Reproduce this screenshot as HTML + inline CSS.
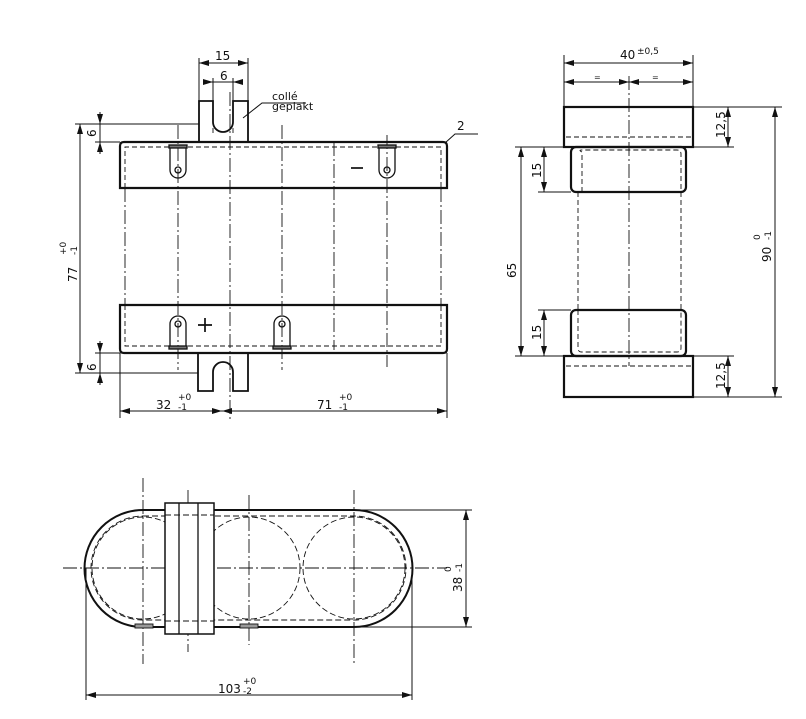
<!DOCTYPE html>
<html><head><meta charset="utf-8"><style>
html,body{margin:0;padding:0;background:#fff}
svg{display:block}
text{font-family:"DejaVu Sans","Liberation Sans",sans-serif;fill:#111}
</style></head><body>
<svg width="806" height="719" viewBox="0 0 806 719" xmlns="http://www.w3.org/2000/svg">
<defs>
<marker id="a" viewBox="0 0 10 6" refX="10" refY="3" markerWidth="10" markerHeight="6" orient="auto-start-reverse" markerUnits="userSpaceOnUse"><path d="M0,0L10,3L0,6z" fill="#111"/></marker>
</defs>
<g stroke="#111" fill="none">
<!-- FRONT VIEW -->
<g stroke-width="0.9" stroke-dasharray="14,3,2,3">
<line x1="178" y1="125" x2="178" y2="370"/><line x1="230" y1="92" x2="230" y2="420"/>
<line x1="282" y1="125" x2="282" y2="370"/><line x1="334" y1="142" x2="334" y2="350"/>
<line x1="387" y1="135" x2="387" y2="367"/>
<line x1="125" y1="188" x2="125" y2="305"/><line x1="441" y1="188" x2="441" y2="305"/>
</g>
<g stroke-width="0.9" stroke-dasharray="5,3">
<path d="M125,188 V147 H441 V188"/><path d="M125,305 V346 H441 V305"/>
<path d="M213,133 V118"/><path d="M233,133 V118"/>
</g>
<path d="M120,188 V146 Q120,142 124,142 H443 Q447,142 447,146 V188 Z" stroke-width="2.2"/>
<path d="M120,305 V349 Q120,353 124,353 H443 Q447,353 447,349 V305 Z" stroke-width="2.2"/>
<path d="M199,142 V101 H213 V122 A10,10 0 0 0 233,122 V101 H248 V142" stroke-width="1.8"/>
<path d="M198,353 V391 H213 V372 A10,10 0 0 1 233,372 V391 H248 V353" stroke-width="1.8"/>
<!-- lugs -->
<g stroke-width="1.3">
<path d="M170,147 V170 A8,8 0 0 0 186,170 V147"/><circle cx="178" cy="170" r="3"/><rect x="169" y="145" width="18" height="3" fill="#777"/>
<path d="M379,147 V170 A8,8 0 0 0 395,170 V147"/><circle cx="387" cy="170" r="3"/><rect x="378" y="145" width="18" height="3" fill="#777"/>
<path d="M170,347 V324 A8,8 0 0 1 186,324 V347"/><circle cx="178" cy="324" r="3"/><rect x="169" y="346" width="18" height="3" fill="#777"/>
<path d="M274,347 V324 A8,8 0 0 1 290,324 V347"/><circle cx="282" cy="324" r="3"/><rect x="273" y="346" width="18" height="3" fill="#777"/>
</g>
<path d="M351,168 H363" stroke-width="1.7"/>
<path d="M198,325 H212 M205,318 V332" stroke-width="1.7"/>
<!-- dims front -->
<g stroke-width="1">
<line x1="199" y1="58" x2="199" y2="101"/><line x1="248" y1="58" x2="248" y2="101"/>
<line x1="199" y1="63" x2="248" y2="63" marker-start="url(#a)" marker-end="url(#a)"/>
<line x1="213" y1="78" x2="213" y2="101"/><line x1="233" y1="78" x2="233" y2="101"/>
<line x1="205" y1="82" x2="213" y2="82" marker-end="url(#a)"/><line x1="241" y1="82" x2="233" y2="82" marker-end="url(#a)"/><line x1="213" y1="82" x2="233" y2="82"/>
<line x1="75" y1="124" x2="199" y2="124"/><line x1="75" y1="373" x2="198" y2="373"/>
<line x1="80" y1="124" x2="80" y2="373" marker-start="url(#a)" marker-end="url(#a)"/>
<line x1="100" y1="112" x2="100" y2="124" marker-end="url(#a)"/><line x1="100" y1="154" x2="100" y2="142" marker-end="url(#a)"/><line x1="100" y1="124" x2="100" y2="142"/>
<line x1="95" y1="142" x2="120" y2="142"/>
<line x1="95" y1="353" x2="120" y2="353"/>
<line x1="100" y1="341" x2="100" y2="353" marker-end="url(#a)"/><line x1="100" y1="385" x2="100" y2="373" marker-end="url(#a)"/><line x1="100" y1="353" x2="100" y2="373"/>
<line x1="120" y1="353" x2="120" y2="418"/><line x1="447" y1="353" x2="447" y2="418"/>
<line x1="120" y1="411" x2="222" y2="411" marker-start="url(#a)" marker-end="url(#a)"/>
<line x1="222" y1="411" x2="447" y2="411" marker-start="url(#a)" marker-end="url(#a)"/>
<path d="M243,118 L262,103 H306"/>
<path d="M445,143 L455,134 H478"/>
</g>
<!-- SIDE VIEW -->
<line x1="629" y1="76" x2="629" y2="366" stroke-width="0.9" stroke-dasharray="14,3,2,3"/>
<g stroke-width="0.9" stroke-dasharray="5,3">
<line x1="566" y1="137" x2="691" y2="137"/><line x1="566" y1="366" x2="691" y2="366"/>
<path d="M582,192 V152 Q578,150 582,150 H677 Q681,150 681,154 V192"/>
<path d="M578,192 V310 M681,192 V310"/>
<path d="M578,310 V348 Q578,352 582,352 H677 Q681,352 681,348 V310"/>
</g>
<rect x="564" y="107" width="129" height="40" stroke-width="2.2"/>
<rect x="564" y="356" width="129" height="41" stroke-width="2.2"/>
<rect x="571" y="147" width="115" height="45" rx="5" stroke-width="2.2"/>
<rect x="571" y="310" width="115" height="46" rx="5" stroke-width="2.2"/>
<g stroke-width="1">
<line x1="564" y1="55" x2="564" y2="107"/><line x1="693" y1="55" x2="693" y2="107"/>
<line x1="564" y1="63" x2="693" y2="63" marker-start="url(#a)" marker-end="url(#a)"/>
<line x1="564" y1="82" x2="629" y2="82" marker-start="url(#a)" marker-end="url(#a)"/>
<line x1="629" y1="82" x2="693" y2="82" marker-start="url(#a)" marker-end="url(#a)"/>
<line x1="693" y1="107" x2="782" y2="107"/><line x1="693" y1="397" x2="782" y2="397"/>
<line x1="693" y1="147" x2="734" y2="147"/><line x1="693" y1="356" x2="734" y2="356"/>
<line x1="728" y1="107" x2="728" y2="147" marker-start="url(#a)" marker-end="url(#a)"/>
<line x1="728" y1="356" x2="728" y2="397" marker-start="url(#a)" marker-end="url(#a)"/>
<line x1="775" y1="107" x2="775" y2="397" marker-start="url(#a)" marker-end="url(#a)"/>
<line x1="515" y1="147" x2="571" y2="147"/><line x1="515" y1="356" x2="571" y2="356"/>
<line x1="538" y1="192" x2="571" y2="192"/><line x1="538" y1="310" x2="571" y2="310"/>
<line x1="521" y1="147" x2="521" y2="356" marker-start="url(#a)" marker-end="url(#a)"/>
<line x1="544" y1="147" x2="544" y2="192" marker-start="url(#a)" marker-end="url(#a)"/>
<line x1="544" y1="310" x2="544" y2="356" marker-start="url(#a)" marker-end="url(#a)"/>
</g>
<!-- BOTTOM VIEW -->
<g stroke-width="0.9" stroke-dasharray="14,3,2,3">
<line x1="63" y1="568" x2="447" y2="568"/>
<line x1="143" y1="478" x2="143" y2="664"/><line x1="188" y1="490" x2="188" y2="652"/>
<line x1="249" y1="495" x2="249" y2="645"/><line x1="354" y1="490" x2="354" y2="664"/>
</g>
<g stroke-width="0.9" stroke-dasharray="6,3">
<circle cx="143" cy="568" r="51"/><circle cx="249" cy="568" r="51"/><circle cx="354" cy="568" r="51"/>
<path d="M143,516 H354 A52,52 0 0 1 354,620 H143 A52,52 0 0 1 143,516 Z"/>
</g>
<path d="M143,510 H354 A58.5,58.5 0 0 1 354,627 H143 A58.5,58.5 0 0 1 143,510 Z" stroke-width="2"/>
<rect x="165" y="503" width="49" height="131" fill="#fff" stroke-width="1.5"/>
<line x1="179" y1="503" x2="179" y2="634" stroke-width="1.3"/><line x1="198" y1="503" x2="198" y2="634" stroke-width="1.3"/>
<g stroke-width="0.9" stroke-dasharray="6,3"><line x1="165" y1="515" x2="214" y2="515"/><line x1="165" y1="621" x2="214" y2="621"/></g>
<rect x="135" y="624" width="18" height="4" fill="#999" stroke-width="0.9"/>
<rect x="240" y="624" width="18" height="4" fill="#999" stroke-width="0.9"/>
<g stroke-width="1">
<line x1="354" y1="510" x2="472" y2="510"/><line x1="354" y1="627" x2="472" y2="627"/>
<line x1="466" y1="510" x2="466" y2="627" marker-start="url(#a)" marker-end="url(#a)"/>
<line x1="86" y1="568" x2="86" y2="700"/><line x1="412" y1="568" x2="412" y2="700"/>
<line x1="86" y1="695" x2="412" y2="695" marker-start="url(#a)" marker-end="url(#a)"/>
</g>
</g>
<!-- TEXT -->
<g font-size="12">
<text x="215" y="60">15</text>
<text x="220" y="80">6</text>
<text x="272" y="100" font-size="11">collé</text>
<text x="272" y="110" font-size="11">geplakt</text>
<text x="457" y="130">2</text>
<text transform="translate(96,137) rotate(-90)">6</text>
<text transform="translate(96,371) rotate(-90)">6</text>
<text transform="translate(77,282) rotate(-90)">77</text>
<text transform="translate(66,255) rotate(-90)" font-size="9">+0</text>
<text transform="translate(77,255) rotate(-90)" font-size="9">-1</text>
<text x="156" y="409">32</text><text x="178" y="400" font-size="9">+0</text><text x="178" y="410" font-size="9">-1</text>
<text x="317" y="409">71</text><text x="339" y="400" font-size="9">+0</text><text x="339" y="410" font-size="9">-1</text>
<text x="620" y="59">40</text><text x="637" y="54" font-size="9">±0,5</text>
<text x="594" y="80" font-size="8">=</text><text x="652" y="80" font-size="8">=</text>
<text transform="translate(725,138) rotate(-90)">12,5</text>
<text transform="translate(725,389) rotate(-90)">12,5</text>
<text transform="translate(516,278) rotate(-90)">65</text>
<text transform="translate(541,178) rotate(-90)">15</text>
<text transform="translate(541,340) rotate(-90)">15</text>
<text transform="translate(771,262) rotate(-90)">90</text>
<text transform="translate(760,240) rotate(-90)" font-size="9">0</text>
<text transform="translate(771,240) rotate(-90)" font-size="9">-1</text>
<text transform="translate(462,592) rotate(-90)">38</text>
<text transform="translate(451,572) rotate(-90)" font-size="9">0</text>
<text transform="translate(462,572) rotate(-90)" font-size="9">-1</text>
<text x="218" y="693">103</text><text x="243" y="684" font-size="9">+0</text><text x="243" y="694" font-size="9">-2</text>
</g>
</svg>
</body></html>
